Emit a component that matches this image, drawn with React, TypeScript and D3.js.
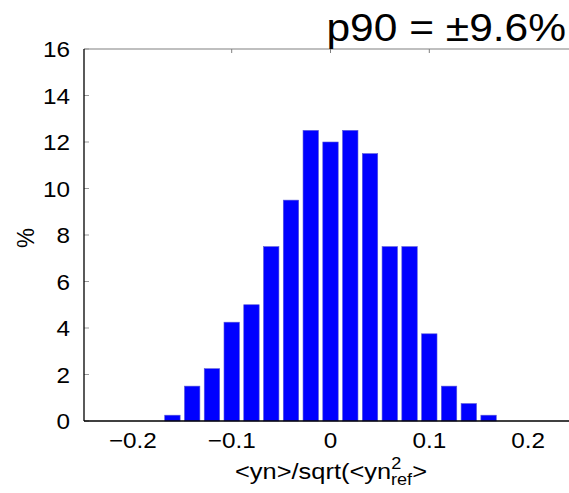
import React from "react";
import * as d3 from "d3";

const binCenters = [-0.16, -0.14, -0.12, -0.1, -0.08, -0.06, -0.04, -0.02, 0, 0.02, 0.04, 0.06, 0.08, 0.1, 0.12, 0.14, 0.16];
const percents = [0.25, 1.5, 2.25, 4.25, 5, 7.5, 9.5, 12.5, 12, 12.5, 11.5, 7.5, 7.5, 3.75, 1.5, 0.75, 0.25];
const xTicks = [-0.2, -0.1, 0, 0.1, 0.2];
const xTickLabels = ["\u22120.2", "\u22120.1", "0", "0.1", "0.2"];
const topTicks = [-0.1, 0, 0.1];
const yTicks = [0, 2, 4, 6, 8, 10, 12, 14, 16];
const title = "p90 = \u00b19.6%";

const W = 569;
const H = 493;
const FONT = "'Liberation Sans', Arial, Helvetica, sans-serif";

export default function App() {
  const left = 84;
  const top = 49;
  const bottom = 421;
  const x = d3.scaleLinear().domain([0, 0.1]).range([330.5, 429.3]);
  const y = d3.scaleLinear().domain([0, 16]).range([bottom, top]);
  const xMax = 0.25;
  const binW = 0.02;
  const barFrac = 0.78;
  const bw = (x(binW) - x(0)) * barFrac;
  const sx = 1.08;
  const fs = 22.5;

  return (
    <svg
      width={W}
      height={H}
      style={{ position: "absolute", left: 0, top: 0, background: "#fff" }}
      fontFamily={FONT}
    >
      <rect x={0} y={0} width={W} height={H} fill="#fff" />
      {binCenters.map((c, i) => (
        <rect
          key={i}
          x={x(c) - bw / 2}
          y={y(percents[i])}
          width={bw}
          height={y(0) - y(percents[i])}
          fill="#0000ff"
          stroke="#5a5ad8"
          strokeWidth={0.6}
        />
      ))}
      <line x1={left} x2={x(xMax)} y1={top} y2={top} stroke="#808080" strokeWidth={1.2} />
      {topTicks.map((t) => (
        <line key={t} x1={x(t)} x2={x(t)} y1={top} y2={top + 4} stroke="#808080" strokeWidth={1} />
      ))}
      {yTicks.map((t) => (
        <line key={t} x1={left} x2={left + 5} y1={y(t)} y2={y(t)} stroke="#999" strokeWidth={1} />
      ))}
      <line x1={left} x2={left} y1={top} y2={bottom} stroke="#000" strokeWidth={1.3} />
      <line x1={left} x2={x(xMax)} y1={bottom} y2={bottom} stroke="#000" strokeWidth={1.5} />
      {yTicks.map((t) => (
        <text
          key={t}
          transform={`translate(70, ${y(t)}) scale(${sx},1)`}
          dy="0.36em"
          textAnchor="end"
          fontSize={fs}
          fill="#000"
        >
          {t}
        </text>
      ))}
      {xTicks.map((t, i) => (
        <text
          key={t}
          transform={`translate(${x(t)}, 448) scale(${sx},1)`}
          textAnchor="middle"
          fontSize={fs}
          fill="#000"
        >
          {xTickLabels[i]}
        </text>
      ))}
      <text
        transform={`translate(34, ${(top + bottom) / 2 + 3}) rotate(-90) scale(1,${sx})`}
        textAnchor="middle"
        fontSize={fs}
        fill="#000"
      >
        %
      </text>
      <text
        transform={`translate(331, 479) scale(1.13,1)`}
        textAnchor="middle"
        fontSize={fs}
        fill="#000"
      >
        {"<yn>/sqrt(<yn"}
        <tspan fontSize={16} dy={-10}>2</tspan>
        <tspan fontSize={16} dx={-9} dy={16}>ref</tspan>
        <tspan fontSize={fs} dy={-6}>{">"}</tspan>
      </text>
      <text
        transform={`translate(566, 41) scale(1.09,1)`}
        textAnchor="end"
        fontSize={39}
        fill="#000"
      >
        {title}
      </text>
    </svg>
  );
}
